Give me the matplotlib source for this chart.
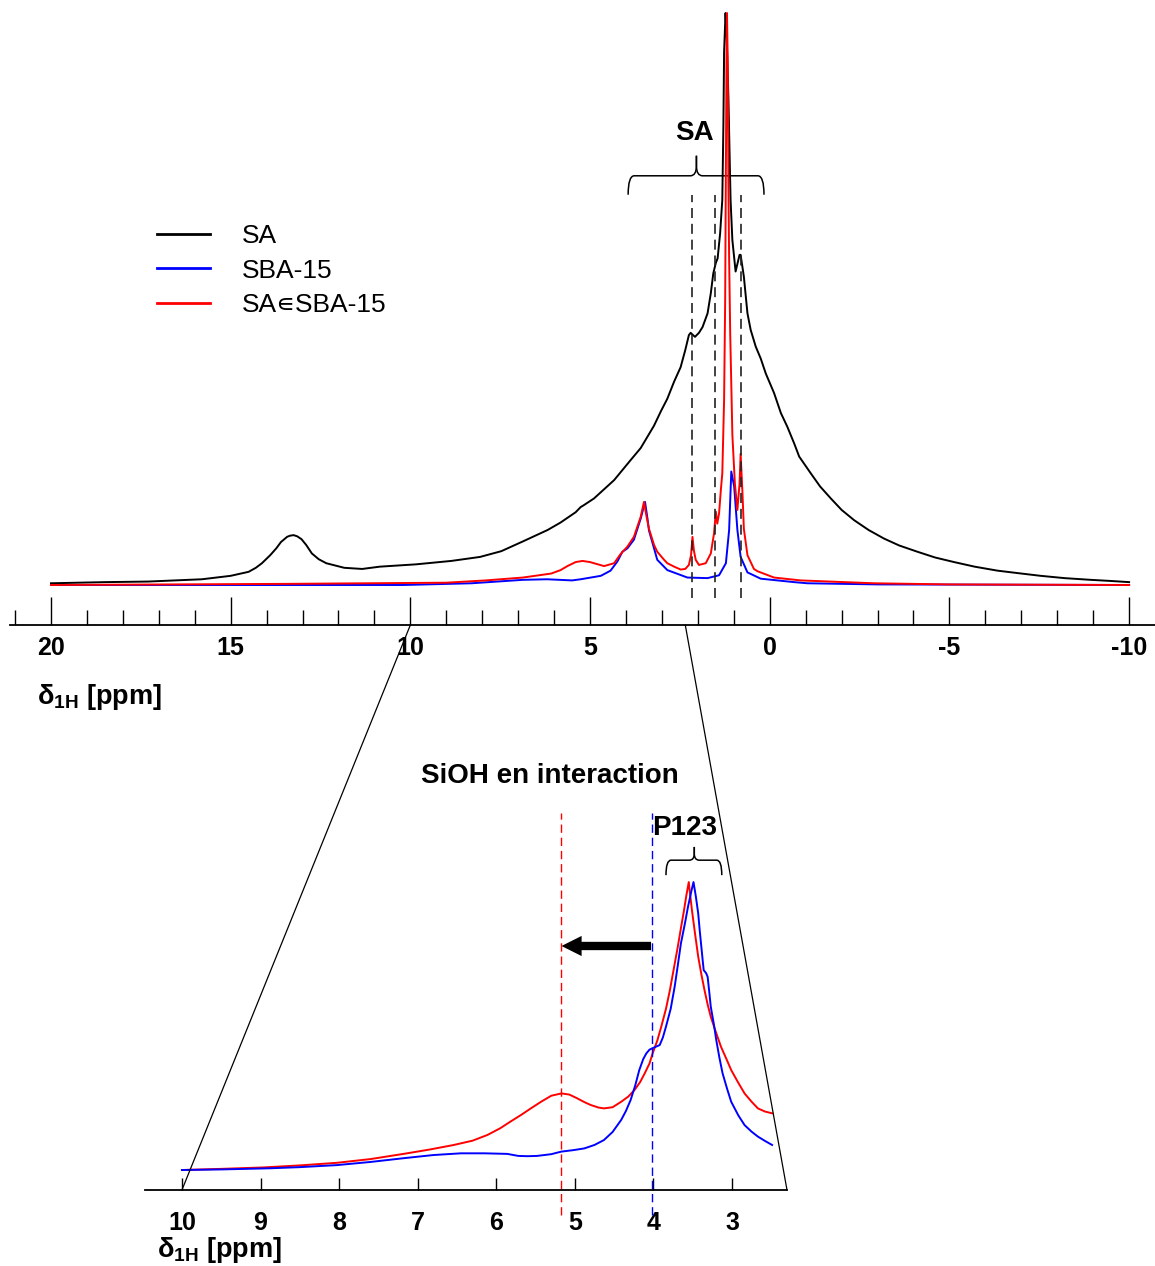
import numpy as np
import matplotlib
matplotlib.use('Agg')
from matplotlib import pyplot as plt
from matplotlib.path import Path
from matplotlib.patches import PathPatch, ConnectionPatch, FancyArrowPatch
from matplotlib.ticker import MultipleLocator

plt.rcParams['font.family'] = ['Liberation Sans', 'DejaVu Sans']
plt.rcParams['mathtext.fontset'] = 'custom'
plt.rcParams['mathtext.rm'] = 'Liberation Sans'
plt.rcParams['mathtext.bf'] = 'Liberation Sans:bold'
plt.rcParams['axes.unicode_minus'] = False

# full spectrum (ppm, normalised intensity)
sa_ppm = [20.0, 18.5, 17.3, 15.8, 15.0, 14.5, 14.3, 14.13, 13.9, 13.73, 13.6, 13.43, 13.35, 13.25,
          13.15, 13.03, 12.9, 12.74, 12.55, 12.34, 11.84, 11.34, 10.85, 9.85, 8.86, 8.06, 7.47,
          6.87, 6.18, 5.82, 5.40, 5.26, 5.18, 4.89, 4.33, 3.87, 3.59, 3.40, 3.22, 3.03, 2.85,
          2.66, 2.48, 2.35, 2.25, 2.20, 2.15, 2.08, 1.97, 1.87, 1.73, 1.64, 1.57, 1.50, 1.45,
          1.38, 1.32, 1.29, 1.27, 1.23, 1.20, 1.15, 1.12, 1.09, 1.04, 0.95, 0.84, 0.81, 0.72,
          0.62, 0.53, 0.39, 0.25, 0.11, -0.12, -0.31, -0.49, -0.68, -0.82, -1.14, -1.4, -1.70,
          -2.0, -2.35, -2.75, -3.18, -3.6, -4.11, -4.6, -5.13, -5.7, -6.34, -7.0, -7.54, -8.2,
          -8.93, -9.5, -10.0]
sa_int = [0.003, 0.005, 0.006, 0.010, 0.016, 0.023, 0.030, 0.038, 0.052, 0.064, 0.075, 0.084, 0.086, 0.087,
          0.085, 0.080, 0.070, 0.055, 0.045, 0.038, 0.030, 0.028, 0.032, 0.036, 0.042, 0.049, 0.059,
          0.076, 0.096, 0.109, 0.127, 0.136, 0.139, 0.151, 0.183, 0.218, 0.239, 0.259, 0.278, 0.303, 0.325,
          0.355, 0.380, 0.410, 0.436, 0.440, 0.437, 0.433, 0.440, 0.450, 0.474, 0.509, 0.544, 0.562, 0.570,
          0.614, 0.672, 0.800, 0.930, 0.998, 0.960, 0.850, 0.760, 0.672, 0.602, 0.547, 0.576, 0.576, 0.538,
          0.474, 0.445, 0.416, 0.395, 0.369, 0.335, 0.300, 0.276, 0.247, 0.224, 0.195, 0.172, 0.151,
          0.131, 0.113, 0.096, 0.081, 0.069, 0.058, 0.048, 0.040, 0.032, 0.025, 0.020, 0.016, 0.012,
          0.009, 0.007, 0.005]

sba_ppm = [20.0, 10.2, 8.3, 6.87, 6.2, 5.5, 5.26, 4.70, 4.43, 4.24, 4.10, 3.96, 3.78, 3.59,
           3.47, 3.40, 3.36, 3.26, 3.13, 2.85, 2.29, 1.73, 1.41, 1.22, 1.13, 1.07, 0.99,
           0.90, 0.81, 0.62, 0.25, -0.68, -1.05, -3.0, -10.0]
sba_int = [0.0, 0.0, 0.003, 0.009, 0.010, 0.008, 0.010, 0.016, 0.025, 0.041, 0.058, 0.064, 0.079, 0.116,
           0.145, 0.115, 0.095, 0.073, 0.044, 0.026, 0.013, 0.012, 0.017, 0.038, 0.096, 0.198, 0.172,
           0.096, 0.049, 0.022, 0.011, 0.005, 0.003, 0.001, 0.0]

mix_ppm = [20.0, 13.4, 9.0, 7.9, 6.87, 6.08, 5.82, 5.63, 5.40, 5.21, 5.0, 4.89, 4.61, 4.33,
           4.15, 3.96, 3.78, 3.59, 3.50, 3.43, 3.36, 3.22, 3.13, 2.94, 2.85, 2.66, 2.48,
           2.35, 2.25, 2.19, 2.15, 2.11, 2.06, 1.97, 1.78, 1.64, 1.55, 1.50, 1.46, 1.41,
           1.36, 1.32, 1.27, 1.24, 1.22, 1.20, 1.19, 1.17, 1.15, 1.13, 1.10, 1.04, 0.97,
           0.90, 0.84, 0.81, 0.76, 0.72, 0.62, 0.44, 0.34, -0.12, -0.86, -2.9, -5.0, -10.0]
mix_int = [0.0, 0.002, 0.004, 0.008, 0.013, 0.020, 0.026, 0.033, 0.040, 0.042, 0.040, 0.038, 0.033, 0.038,
           0.054, 0.067, 0.084, 0.119, 0.145, 0.120, 0.098, 0.070, 0.058, 0.044, 0.038, 0.032, 0.027,
           0.028, 0.035, 0.052, 0.084, 0.060, 0.044, 0.035, 0.038, 0.055, 0.090, 0.128, 0.107, 0.125,
           0.166, 0.195, 0.323, 0.497, 0.730, 0.950, 0.998, 0.920, 0.700, 0.570, 0.439, 0.262, 0.177,
           0.131, 0.177, 0.229, 0.162, 0.098, 0.052, 0.028, 0.024, 0.013, 0.008, 0.003, 0.001, 0.0]

# zoomed region 10 - 2.5 ppm
zsba_ppm = [10.0, 9.5, 8.88, 8.5, 8.03, 7.6, 7.18, 6.8, 6.45, 6.15, 5.86, 5.80, 5.72, 5.60, 5.48,
            5.30, 5.17, 5.02, 4.88, 4.75, 4.63, 4.52, 4.41, 4.35, 4.29, 4.23, 4.18, 4.13, 4.09,
            4.05, 4.02, 3.97, 3.92, 3.88, 3.84, 3.78, 3.73, 3.69, 3.65, 3.60, 3.56, 3.52, 3.49,
            3.46, 3.43, 3.41, 3.39, 3.37, 3.36, 3.33, 3.31, 3.29, 3.27, 3.23, 3.20, 3.16, 3.12,
            3.06, 3.01, 2.92, 2.84, 2.75, 2.67, 2.58, 2.49]
zsba_int = [0.0, 0.002, 0.006, 0.010, 0.017, 0.028, 0.041, 0.052, 0.058, 0.058, 0.056, 0.053, 0.049, 0.048, 0.049,
            0.055, 0.064, 0.069, 0.075, 0.087, 0.104, 0.132, 0.174, 0.205, 0.243, 0.295, 0.347, 0.385, 0.405,
            0.418, 0.422, 0.428, 0.434, 0.460, 0.498, 0.560, 0.636, 0.710, 0.787, 0.855, 0.914, 0.965, 1.0,
            0.950, 0.891, 0.830, 0.775, 0.720, 0.694, 0.684, 0.671, 0.620, 0.567, 0.505, 0.451, 0.390, 0.336,
            0.280, 0.237, 0.190, 0.156, 0.133, 0.116, 0.101, 0.087]

zmix_ppm = [10.0, 9.5, 8.96, 8.5, 8.03, 7.6, 7.18, 6.85, 6.54, 6.3, 6.11, 5.95, 5.82, 5.68, 5.56,
            5.43, 5.30, 5.17, 5.07, 4.97, 4.88, 4.80, 4.70, 4.63, 4.52, 4.41, 4.32, 4.24, 4.17,
            4.11, 4.05, 4.01, 3.95, 3.90, 3.84, 3.79, 3.74, 3.69, 3.65, 3.61, 3.58, 3.55, 3.53,
            3.51, 3.47, 3.43, 3.39, 3.35, 3.31, 3.27, 3.20, 3.14, 3.07, 3.01, 2.92, 2.84, 2.75,
            2.67, 2.58, 2.49]
zmix_int = [0.0, 0.004, 0.009, 0.016, 0.025, 0.038, 0.056, 0.071, 0.087, 0.102, 0.122, 0.145, 0.168, 0.192, 0.214,
            0.237, 0.258, 0.266, 0.262, 0.249, 0.236, 0.226, 0.217, 0.214, 0.218, 0.237, 0.255, 0.278, 0.305,
            0.336, 0.370, 0.405, 0.450, 0.498, 0.560, 0.625, 0.700, 0.775, 0.840, 0.903, 0.955, 1.0, 0.950,
            0.903, 0.820, 0.741, 0.680, 0.625, 0.575, 0.532, 0.475, 0.428, 0.385, 0.347, 0.303, 0.266, 0.237,
            0.214, 0.203, 0.197]

sa_marks = [2.15, 1.52, 0.81]
siol_sba = 4.02
siol_mix = 5.17
labels = ['SA', 'SBA-15', 'SA\u220aSBA-15']

W, H = 1155, 1266
def fx(px):
    return px / W
def fy(py):
    return 1 - py / H

fig = plt.figure(figsize=(W / 100, H / 100), dpi=100)
ax1 = fig.add_axes([fx(10), fy(625), fx(1155) - fx(10), fy(5) - fy(625)])
ax2 = fig.add_axes([fx(145), fy(1190), fx(787) - fx(145), fy(800) - fy(1190)])

lw = 1.4
ax1.plot(sa_ppm, sa_int, color='black', lw=lw, label=labels[0])
ax1.plot(sba_ppm, sba_int, color='#0000ff', lw=lw, label=labels[1])
ax1.plot(mix_ppm, mix_int, color='#ff0000', lw=lw, label=labels[2])
ax1.vlines(sa_marks, -0.0227, 0.681, colors='#222222', lw=1.2, linestyles=(0, (6, 3.5)))
ax1.set_xlim(21.14, -10.72)
ax1.set_ylim(-0.0698, 1.012)

ax2.plot(zmix_ppm, zmix_int, color='#ff0000', lw=lw)
ax2.plot(zsba_ppm, zsba_int, color='#0000ff', lw=lw)
ax2.vlines([siol_mix], -0.156, 1.24, colors='#ff0000', lw=1.0, linestyles=(0, (6, 3.5)), clip_on=False)
ax2.vlines([siol_sba], -0.156, 1.24, colors='#0000ff', lw=1.0, linestyles=(0, (6, 3.5)), clip_on=False)
ax2.set_xlim(10.47, 2.30)
ax2.set_ylim(-0.0694, 1.285)

for ax in (ax1, ax2):
    for s in ('left', 'right', 'top'):
        ax.spines[s].set_visible(False)
    ax.spines['bottom'].set_linewidth(1.3)
    ax.set_yticks([])
    ax.patch.set_visible(False)

ax1.xaxis.set_major_locator(MultipleLocator(5))
ax1.xaxis.set_minor_locator(MultipleLocator(1))
ax1.tick_params(axis='x', which='major', direction='in', length=20, width=1.0, labelsize=18, pad=8)
ax1.tick_params(axis='x', which='minor', direction='in', length=10.5, width=1.0)
ax2.xaxis.set_major_locator(MultipleLocator(1))
ax2.tick_params(axis='x', which='major', direction='in', length=8.5, width=1.0, labelsize=18, pad=15)
for ax in (ax1, ax2):
    for t in ax.get_xticklabels():
        t.set_fontweight('bold')

leg = ax1.legend(loc='upper left', bbox_to_anchor=(fx(157), fy(224)), bbox_transform=fig.transFigure,
                 frameon=False, fontsize=19, handlelength=2.0, handletextpad=1.2, labelspacing=0.4,
                 borderpad=0, borderaxespad=0)
for h in leg.get_lines():
    h.set_linewidth(2.0)

def brace(ax, x0, x1, xm, yb, yh, yt, dx):
    ymid = (yh + yt) / 2
    codes = [Path.MOVETO, Path.CURVE3, Path.CURVE3, Path.LINETO, Path.CURVE3, Path.CURVE3, Path.LINETO]
    left = [(x0, yb), (x0, yh), (x0 - dx, yh), (xm + dx, yh), (xm, yh), (xm, ymid), (xm, yt)]
    right = [(x1, yb), (x1, yh), (x1 + dx, yh), (xm - dx, yh), (xm, yh), (xm, ymid), (xm, yt)]
    for v in (left, right):
        ax.add_patch(PathPatch(Path(v, codes), fill=False, lw=1.1, color='black'))

brace(ax1, 3.94, 0.16, 2.04, 0.681, 0.714, 0.749, 0.17)
brace(ax2, 3.84, 3.13, 3.48, 1.024, 1.076, 1.122, 0.064)

arrow = FancyArrowPatch((siol_sba + 0.01, 0.778), (siol_mix, 0.778),
                        arrowstyle='simple,head_length=1.45,head_width=1.45,tail_width=0.6',
                        mutation_scale=10, color='black', lw=0, shrinkA=0, shrinkB=0,
                        transform=ax2.transData, clip_on=False)
ax2.add_patch(arrow)

# zoom guide lines
y1 = ax1.get_ylim()[0]
y2 = ax2.get_ylim()[0]
for xa, xb in ((10, 10), (2.35, ax2.get_xlim()[1])):
    con = ConnectionPatch(xyA=(xa, y1), coordsA=ax1.transData, xyB=(xb, y2), coordsB=ax2.transData,
                          color='black', lw=0.9)
    fig.add_artist(con)

bold = dict(fontsize=20, fontweight='bold', ha='center', va='center')
fig.text(fx(694), fy(133), 'SA', **bold)
fig.text(fx(685), fy(828), 'P123', **bold)
fig.text(fx(550), fy(776), 'SiOH en interaction', **bold)

xlab = '\u03b4$_{\\mathbf{1H}}$ [ppm]'
fig.text(fx(37), fy(697), xlab, fontsize=19.5, fontweight='bold', ha='left', va='center')
fig.text(fx(157), fy(1250), xlab, fontsize=19.5, fontweight='bold', ha='left', va='center')

fig.savefig('out.png', dpi=100)
